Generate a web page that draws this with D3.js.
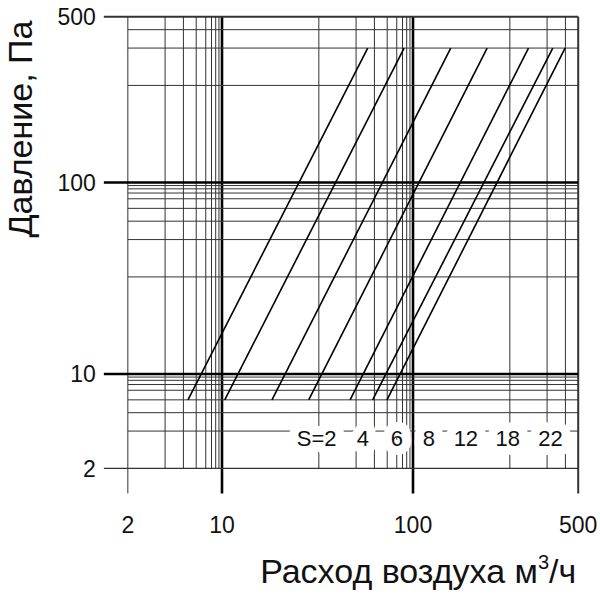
<!DOCTYPE html>
<html>
<head>
<meta charset="utf-8">
<script src="https://cdn.jsdelivr.net/npm/d3@7"></script>
<style>
  body { margin: 0; background: #fff; }
  text { font-family: "Liberation Sans", Arial, sans-serif; fill: #111; }
</style>
</head>
<body>
<div id="chart"></div>
<script>
// tick labels on both axes
const xTickValues = [2, 10, 100, 500];
const yTickValues = [2, 10, 100, 500];

// the printed grid is not a true log grid: where line m*10^k sits inside its decade
const decadeMarks = [0, 0.507, 0.702, 0.798, 0.865, 0.915, 0.945, 0.967, 0.984];

// curve names, and flow (m3/h) where each straight line starts (5 Pa) and ends (300 Pa)
const series = ["S=2", "4", "6", "8", "12", "18", "22"];
const flowAt5Pa = [4.33, 10.2, 14.3, 18.6, 28.1, 38.9, 49.8];
const flowAt300Pa = [36.0, 73.7, 131, 170, 245, 328, 398];
const pLow = 5, pHigh = 300;

// where the labels of the curves sit (flow, m3/h), along the 3 Pa row
const labelFlow = [19.7, 33.4, 60, 112, 146, 197, 317];
const labelPressure = 3;

let width = 600,
    height = 607,
    decadeX = 191,
    decadeY = 191.5,
    x1 = 31,      // pixel of flow = 1
    y1 = 565.5;   // pixel of pressure = 1

const svg = d3.select("#chart")
  .append("svg")
  .attr("width", width)
  .attr("height", height)
  .attr("viewBox", [0, 0, width, height]);

// every grid value m*10^k from lo to hi
function gridValues(lo, hi) {
  let out = [];
  for (let k = 0; k < 4; k++) {
    for (let m = 1; m <= 9; m++) {
      let v = m * Math.pow(10, k);
      if (v >= lo && v <= hi) out.push(v);
    }
  }
  return out;
}

function decadePos(v) {
  let k = Math.floor(Math.log10(v) + 1e-9);
  let m = Math.round(v / Math.pow(10, k));
  return k + decadeMarks[m - 1];
}

let xGrid = gridValues(2, 500),
    yGrid = gridValues(2, 500);

// piecewise log scales through the printed grid lines
let x = d3.scaleLog()
  .domain(xGrid)
  .range(xGrid.map(v => x1 + decadeX * decadePos(v)));

let y = d3.scaleLog()
  .domain(yGrid)
  .range(yGrid.map(v => y1 - decadeY * decadePos(v)));

let plotLeft = x(2), plotRight = x(500), plotTop = y(500), plotBottom = y(2);
let isMajor = v => v === 10 || v === 100;

// vertical grid
svg.append("g")
  .selectAll("line")
  .data(xGrid)
  .join("line")
    .attr("x1", d => x(d))
    .attr("x2", d => x(d))
    .attr("y1", plotTop)
    .attr("y2", d => xTickValues.includes(d) ? plotBottom + 25 : plotBottom)
    .attr("stroke", d => isMajor(d) ? "#000" : "#333")
    .attr("stroke-width", d => isMajor(d) ? 2.6 : (d === 500 ? 2 : 1));

// horizontal grid
svg.append("g")
  .selectAll("line")
  .data(yGrid)
  .join("line")
    .attr("x1", d => yTickValues.includes(d) ? plotLeft - 24 : plotLeft)
    .attr("x2", plotRight)
    .attr("y1", d => y(d))
    .attr("y2", d => y(d))
    .attr("stroke", d => isMajor(d) ? "#000" : "#333")
    .attr("stroke-width", d => isMajor(d) ? 2.6 : (d === 500 ? 2 : (d === 2 ? 1.4 : 1)));

// the S curves, straight on the printed grid
svg.append("g")
  .selectAll("line")
  .data(series)
  .join("line")
    .attr("x1", (d, i) => x(flowAt5Pa[i]))
    .attr("y1", y(pLow))
    .attr("x2", (d, i) => x(flowAt300Pa[i]))
    .attr("y2", y(pHigh))
    .attr("stroke", "#000")
    .attr("stroke-width", 1.6);

// curve labels with a white halo that cuts the grid
svg.append("g")
  .selectAll("text")
  .data(series)
  .join("text")
    .attr("x", (d, i) => x(labelFlow[i]))
    .attr("y", y(labelPressure))
    .attr("dy", "0.68em")
    .attr("text-anchor", "middle")
    .attr("font-size", 22)
    .attr("stroke", "#fff")
    .attr("stroke-width", 18)
    .attr("stroke-linejoin", "round")
    .attr("paint-order", "stroke")
    .text(d => d);

// tick labels
svg.append("g")
  .selectAll("text")
  .data(xTickValues)
  .join("text")
    .attr("x", d => x(d))
    .attr("y", plotBottom + 65)
    .attr("text-anchor", "middle")
    .attr("font-size", 23)
    .text(d => d);

svg.append("g")
  .selectAll("text")
  .data(yTickValues)
  .join("text")
    .attr("x", plotLeft - 32)
    .attr("y", d => y(d))
    .attr("dy", "0.36em")
    .attr("text-anchor", "end")
    .attr("font-size", 23)
    .text(d => d);

// axis titles
let xTitle = svg.append("text")
  .attr("text-anchor", "end")
  .attr("x", plotRight - 2)
  .attr("y", 583)
  .attr("font-size", 34);
xTitle.append("tspan").text("Расход воздуха м");
xTitle.append("tspan").attr("dy", -14).attr("font-size", 20).text("3");
xTitle.append("tspan").attr("dy", 14).text("/ч");

svg.append("text")
  .attr("text-anchor", "middle")
  .attr("transform", "rotate(-90)")
  .attr("x", -129)
  .attr("y", 32)
  .attr("font-size", 34)
  .text("Давление, Па");
</script>
</body>
</html>
